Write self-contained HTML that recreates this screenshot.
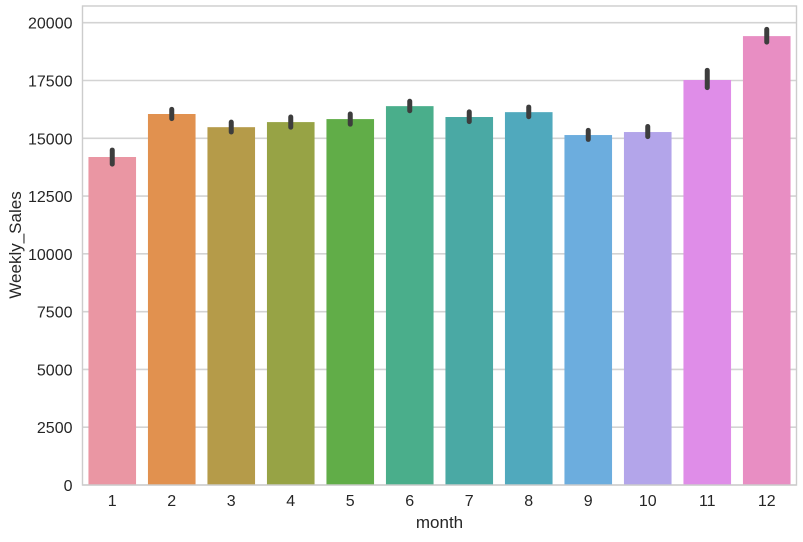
<!DOCTYPE html>
<html><head><meta charset="utf-8"><style>
body{margin:0;background:#fff;}
svg text{font-family:"Liberation Sans",Arial,sans-serif;fill:#262626;}
</style></head><body>
<svg id="chart" width="803" height="537" xmlns="http://www.w3.org/2000/svg">
<g id="grid"></g><g id="bars"></g><g id="errs"></g><g id="axes"></g>
<text x="439.5" y="528" font-size="17" text-anchor="middle">month</text>
<text transform="translate(21,245) rotate(-90)" font-size="17" text-anchor="middle">Weekly_Sales</text>
</svg>
<script>
const months=["1","2","3","4","5","6","7","8","9","10","11","12"];
const sales=[14190,16050,15480,15700,15830,16390,15920,16130,15140,15270,17520,19420];
const errLow=[13880,15850,15270,15480,15610,16190,15720,15930,14950,15070,17190,19160];
const errHigh=[14490,16250,15700,15920,16050,16600,16140,16350,15340,15510,17940,19710];
const yTicks=[0,2500,5000,7500,10000,12500,15000,17500,20000];
const colors=["#ea96a3","#e1914f","#b59b49","#97a345","#61ad48","#4aae8b","#4aa9a4","#50a9bd","#6cadde","#b3a5ea","#df8de8","#e88ec3"];
const L=82.5,R=796.5,T=6,B=485;
const y=v=>B-v*(B-22.7)/20000;
const band=(R-L)/months.length;
const x=i=>L+band*(i+0.5);
const NS="http://www.w3.org/2000/svg";
function mk(tag,attrs,parent){const e=document.createElementNS(NS,tag);for(const k in attrs)e.setAttribute(k,attrs[k]);document.getElementById(parent).appendChild(e);return e;}
yTicks.forEach(t=>{
 const g=mk("line",{x1:L,x2:R,y1:y(t),y2:y(t),stroke:"#d3d3d3","stroke-width":1.6},"grid");
 
 
 const tx=mk("text",{x:L-10,y:y(t)+6,"font-size":16,"text-anchor":"end"},"axes");
 tx.textContent=t;
 
 
});
months.forEach((m,i)=>{
 const w=band*0.8;
 const r=mk("rect",{x:x(i)-w/2,y:y(sales[i]),width:w,height:B-y(sales[i]),fill:colors[i]},"bars");
 
 
 const e=mk("line",{x1:x(i),x2:x(i),y1:y(errLow[i]),y2:y(errHigh[i]),stroke:"#3d3d3d","stroke-width":5,"stroke-linecap":"round"},"errs");
 
 
 const tx=mk("text",{x:x(i),y:B+21,"font-size":16,"text-anchor":"middle"},"axes");
 tx.textContent=m;
 
 
});
const f=mk("rect",{x:L,y:T,width:R-L,height:B-T,fill:"none",stroke:"#cccccc","stroke-width":1.4},"axes");


</script>
</body></html>
